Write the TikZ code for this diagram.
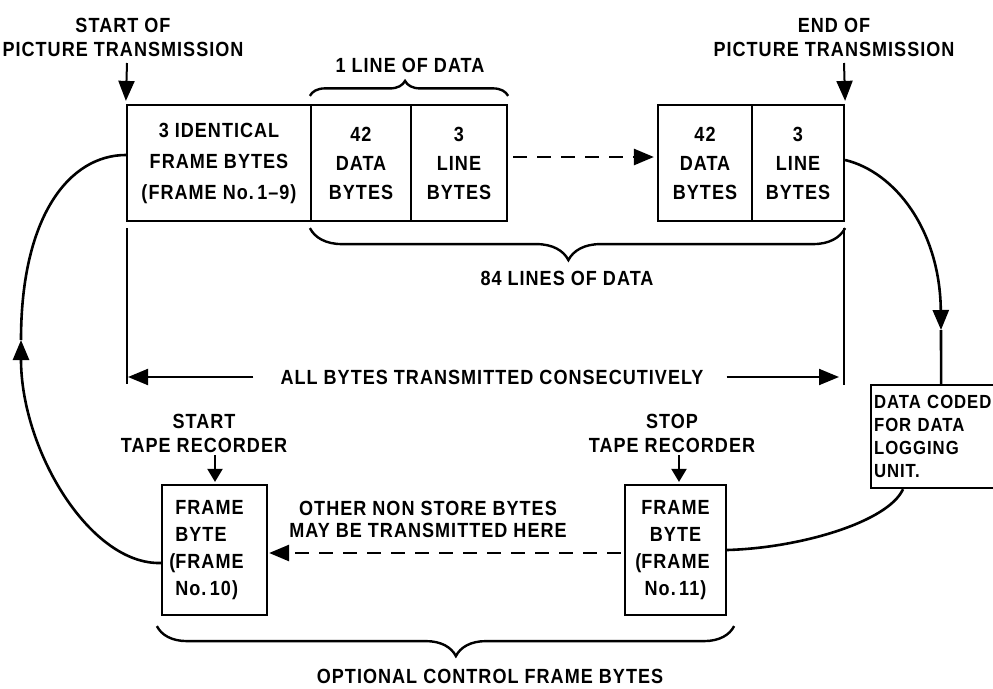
\documentclass[tikz,border=0pt]{standalone}
\usepackage{fontspec}
\setmainfont{Liberation Sans}[FakeStretch=0.88,LetterSpace=5]
\usetikzlibrary{arrows.meta,decorations.pathreplacing}
\begin{document}
\begin{tikzpicture}[x=1pt,y=-1pt,
  lbl/.style={font=\bfseries\fontsize{20.5}{24}\selectfont, inner sep=0pt, align=center},
  box/.style={draw, line width=2.2pt, inner sep=0pt, align=center, minimum height=116pt},
  bt/.style={font=\bfseries\fontsize{20.5}{29}\selectfont},
  con/.style={line width=2.6pt},
  thn/.style={line width=2pt},
  tip/.style={-{Triangle[length=20pt,width=16pt]}},
  stip/.style={-{Triangle[length=13pt,width=15pt]}},
  brc/.style={decorate, line width=2.4pt, decoration={brace, amplitude=#1}},
  dsh/.style={dash pattern=on 14pt off 10pt}]
\fill[white] (0,0) rectangle (993,688);
\useasboundingbox (0,0) rectangle (993,688);

% top row of boxes
\node[box, minimum width=184pt, font=\bfseries\fontsize{20.5}{31}\selectfont] (fb) at (219,163)
  {3 IDENTICAL\\FRAME BYTES\\(FRAME No.\,1--9)};
\node[box, bt, minimum width=100pt] (db1) at (361,163) {42\\DATA\\BYTES};
\node[box, bt, minimum width=96pt] (lb1) at (459,163) {3\\LINE\\BYTES};
\node[box, bt, minimum width=94pt] (db2) at (705,163) {42\\DATA\\BYTES};
\node[box, bt, minimum width=92pt] (lb2) at (798,163) {3\\LINE\\BYTES};

% top labels
\node[lbl] (st) at (123,37) {START OF\\PICTURE TRANSMISSION};
\node[lbl] (en) at (834,37) {END OF\\PICTURE TRANSMISSION};
\coordinate (s1) at (127,63);
\coordinate (e1) at (844,63);
\draw[thn, tip] (s1) -- ([yshift=3pt]fb.north west);
\draw[thn, tip] (e1) -- ([yshift=3pt]lb2.north east);

% braces
\node[lbl] (lod) at (410,65) {1 LINE OF DATA};
\draw[brc=15pt, decoration={aspect=0.48}] ([yshift=8pt]db1.north west) -- ([yshift=8pt]lb1.north east);
\draw[brc=32pt, decoration={aspect=0.483, mirror}] ([yshift=-6pt]db1.south west) -- ([yshift=-6pt]lb2.south east);
\node[lbl] (l84) at (567,278) {84 LINES OF DATA};

% dashed arrow top
\draw[con, dsh, tip] ([xshift=5pt,yshift=6pt]lb1.east) -- ([xshift=-3pt,yshift=6pt]db2.west);

% consecutive span
\coordinate (vla) at (127,228);
\coordinate (vlb) at (127,384);
\coordinate (vra) at (844,228);
\coordinate (vrb) at (844,385);
\draw[thn] (vla) -- (vlb);
\draw[thn] (vra) -- (vrb);
\node[lbl] (ab) at (492,377) {ALL BYTES TRANSMITTED CONSECUTIVELY};
\draw[thn, tip] ([xshift=-27pt]ab.west) -- ([xshift=1pt]vlb |- ab);
\draw[thn, tip] ([xshift=23pt]ab.east) -- ([xshift=-5pt]vrb |- ab);

% data coded box
\node[draw, line width=2.2pt, anchor=north west, minimum width=140pt, minimum height=103pt,
  text width=134pt, inner sep=3pt, align=left, font=\bfseries\fontsize{19}{23}\selectfont]
  (dc) at (870,384) {DATA CODED\\FOR DATA\\LOGGING\\UNIT.};

% right curve
\coordinate (rc) at (941,330);
\draw[con, tip] ([yshift=3pt]lb2.east) .. controls (895,172) and (940,230) .. (rc);
\draw[con] (rc) -- (dc.north);

% bottom boxes
\node[box, minimum width=105pt, minimum height=130pt, align=left,
  font=\bfseries\fontsize{20.5}{27}\selectfont] (b10) at (214.5,550)
  {\hspace*{-10pt}FRAME\\\hspace*{-10pt}BYTE\\\hspace*{-10pt}\llap{(}FRAME\\\hspace*{-10pt}No.\,10)};
\node[box, minimum width=101pt, minimum height=130pt,
  font=\bfseries\fontsize{20.5}{27}\selectfont] (b11) at (675.5,550)
  {FRAME\\BYTE\\\llap{(}FRAME\\No.\,11)};

\node[lbl] (sttr) at (204,433) {START\\TAPE RECORDER};
\node[lbl] (sptr) at (672,433) {STOP\\TAPE RECORDER};
\coordinate (t1) at (215,455);
\coordinate (t2) at (679,455);
\draw[thn, stip] (t1) -- ([yshift=2pt]t1 |- b10.north);
\draw[thn, stip] (t2) -- ([yshift=2pt]t2 |- b11.north);

\node[lbl, font=\bfseries\fontsize{20.5}{22}\selectfont] (oth) at (428,519)
  {OTHER NON STORE BYTES\\MAY BE TRANSMITTED HERE};
\draw[con, dsh, tip] ([xshift=-3pt,yshift=-3pt]b11.west) -- ([xshift=1pt,yshift=-3pt]b10.east);

% bottom right curve
\draw[con] ([xshift=33pt]dc.south west) .. controls (888,522) and (800,548) .. (b11.east);

% left curve
\coordinate (lc) at (21,340);
\draw[con, tip] ([yshift=-13pt]b10.west) .. controls (90,565) and (21,450) .. (lc);
\draw[con] (lc) .. controls (21,215) and (70,155) .. ([yshift=8pt]fb.west);

% bottom brace
\draw[brc=30pt, decoration={aspect=0.518, mirror}] ([xshift=-4pt,yshift=-10pt]b10.south west) -- ([xshift=7pt,yshift=-10pt]b11.south east);
\node[lbl] (opt) at (490,676) {OPTIONAL CONTROL FRAME BYTES};
\end{tikzpicture}
\end{document}
